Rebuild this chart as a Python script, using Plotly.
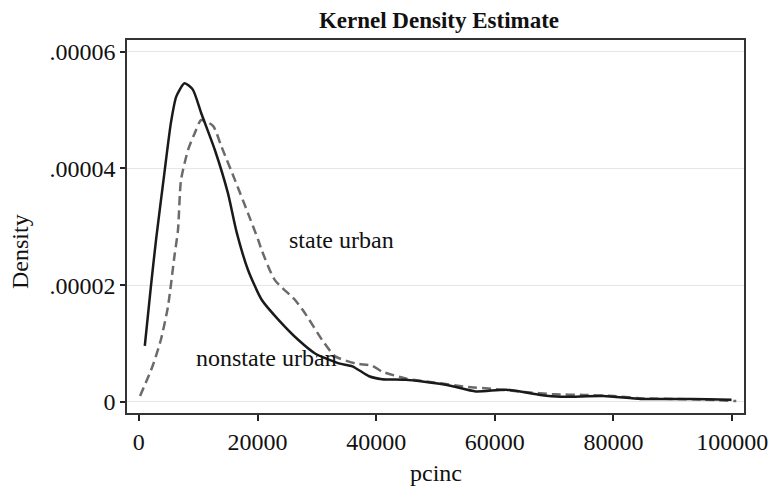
import plotly.graph_objects as go

# ---- data ----
nonstate_x = [1000, 2000, 2900, 4300, 5400, 6300, 7700, 9100, 10500, 12800, 15000, 16500,
              18400, 20700, 23500, 26900, 29700, 33700, 36000, 38800, 41000, 44900, 50700,
              52900, 56800, 61900, 67700, 71100, 78300, 84600, 90200, 95800, 99900]
nonstate_y = [9.6e-6, 1.95e-5, 2.78e-5, 3.92e-5, 4.78e-5, 5.23e-5, 5.46e-5, 5.35e-5, 4.95e-5,
              4.32e-5, 3.58e-5, 2.9e-5, 2.26e-5, 1.75e-5, 1.41e-5, 1.06e-5, 8.3e-6, 6.6e-6,
              6.1e-6, 4.4e-6, 3.9e-6, 3.8e-6, 3.1e-6, 2.7e-6, 1.8e-6, 2.1e-6, 1.2e-6, 0.9e-6,
              1.0e-6, 0.5e-6, 0.5e-6, 0.45e-6, 0.35e-6]

state_x = [200, 2300, 3700, 4900, 6000, 6600, 7100, 8300, 9400, 10500, 12500, 13900, 16200,
           18400, 20100, 20700, 22900, 26300, 28000, 30900, 33100, 36500, 39300, 41000, 45000,
           50000, 55000, 60000, 65000, 70000, 75000, 80000, 85000, 90000, 95000, 100700]
state_y = [1.0e-6, 6.1e-6, 1.06e-5, 1.63e-5, 2.5e-5, 2.95e-5, 3.8e-5, 4.32e-5, 4.6e-5, 4.83e-5,
           4.73e-5, 4.38e-5, 3.8e-5, 3.23e-5, 2.78e-5, 2.6e-5, 2.09e-5, 1.75e-5, 1.52e-5,
           1.06e-5, 7.8e-6, 6.6e-6, 6.2e-6, 5.2e-6, 4.0e-6, 3.3e-6, 2.6e-6, 2.2e-6, 1.7e-6,
           1.3e-6, 1.2e-6, 1.0e-6, 0.6e-6, 0.5e-6, 0.4e-6, 0.15e-6]

x_tickvals = [0, 20000, 40000, 60000, 80000, 100000]
x_ticktext = ["0", "20000", "40000", "60000", "80000", "100000"]
y_tickvals = [0, 0.00002, 0.00004, 0.00006]
y_ticktext = ["0", ".00002", ".00004", ".00006"]

FONT = "Liberation Serif, Times New Roman, serif"
FS = 24

fig = go.Figure()
fig.add_trace(go.Scatter(x=state_x, y=state_y, mode="lines", name="state urban",
                         line=dict(color="#6b6b6b", width=2.5, dash="9px,5px",
                                   shape="spline", smoothing=0.6)))
fig.add_trace(go.Scatter(x=nonstate_x, y=nonstate_y, mode="lines", name="nonstate urban",
                         line=dict(color="#1a1a1a", width=2.5, shape="spline", smoothing=0.6)))

fig.update_layout(
    width=772, height=490,
    margin=dict(l=127, r=28, t=40, b=77),
    paper_bgcolor="white", plot_bgcolor="white",
    showlegend=False,
    font=dict(family=FONT, size=FS, color="#111"),
    title=dict(text="<b>Kernel Density Estimate</b>", x=439 / 772, xref="container",
               xanchor="center", y=1 - 20 / 490, yanchor="middle",
               font=dict(family=FONT, size=23, color="#111")),
    xaxis=dict(range=[-2000, 102000], tickvals=x_tickvals, ticktext=x_ticktext,
               ticks="outside", ticklen=6, tickwidth=1.5, tickcolor="#222",
               showline=True, linecolor="#333", linewidth=1.5, mirror=True,
               showgrid=False, zeroline=False, automargin=False,
               tickfont=dict(family=FONT, size=FS, color="#111")),
    yaxis=dict(range=[-1.9e-6, 6.2e-5], tickvals=y_tickvals, ticktext=y_ticktext,
               ticks="outside", ticklen=5, tickwidth=1.5, tickcolor="#222",
               showline=True, linecolor="#333", linewidth=1.5, mirror=True,
               showgrid=True, gridcolor="#e6e6e6", gridwidth=1, zeroline=False,
               automargin=False,
               tickfont=dict(family=FONT, size=FS, color="#111")),
)

fig.add_annotation(text="state urban", x=24900, y=2.78e-5, xref="x", yref="y",
                   xanchor="left", yanchor="middle", showarrow=False,
                   font=dict(family=FONT, size=FS, color="#111"))
fig.add_annotation(text="nonstate urban", x=9300, y=7.6e-6, xref="x", yref="y",
                   xanchor="left", yanchor="middle", showarrow=False,
                   font=dict(family=FONT, size=FS, color="#111"))
# axis titles
fig.add_annotation(text="pcinc", x=0.5, y=(413 - 473) / 373, xref="paper", yref="paper",
                   xanchor="center", yanchor="middle", showarrow=False,
                   font=dict(family=FONT, size=FS, color="#111"))
fig.add_annotation(text="Density", x=(20 - 127) / 617, y=(413 - 252) / 373, xref="paper", yref="paper",
                   showarrow=False, textangle=-90, xanchor="center", yanchor="middle",
                   font=dict(family=FONT, size=FS, color="#111"))

fig.write_html("out.html", config={"displayModeBar": False},
               post_script="document.body.style.margin='0';document.body.style.padding='0';")
